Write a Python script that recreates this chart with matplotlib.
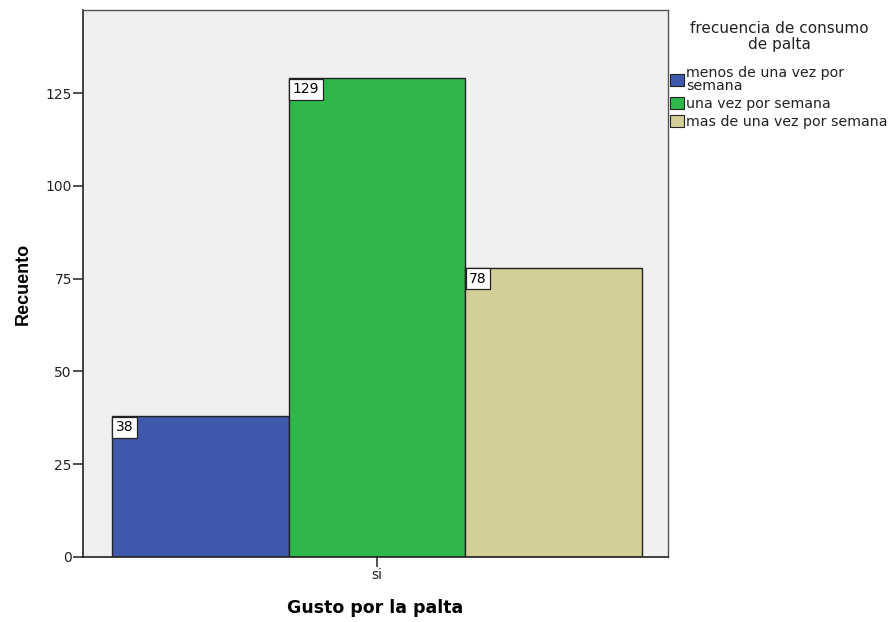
import matplotlib
matplotlib.use("Agg")
import matplotlib.pyplot as plt
from matplotlib.patches import Patch

plt.rcParams['font.family'] = ['DejaVu Sans']

categorias = ["menos de una vez por\nsemana", "una vez por semana", "mas de una vez por semana"]
valores = [38, 129, 78]
colores = ["#3E58AC", "#2FB84A", "#D4CE98"]
posiciones = [-1, 0, 1]
y_ticks = [0, 25, 50, 75, 100, 125]

fig = plt.figure(figsize=(8.9, 6.22), dpi=100)
ax = fig.add_axes([83/890, 65/622, 585/890, 547/622])
ax.set_facecolor("#F0F0F0")

ax.bar(posiciones, valores, width=1.0, color=colores, edgecolor="#222222", linewidth=1.0, zorder=2)

# etiquetas de valor en la esquina superior izquierda de cada barra
for x, v in zip(posiciones, valores):
    ax.annotate(str(v), xy=(x - 0.5, v), xytext=(2.8, -3.0), textcoords="offset points",
                ha="left", va="top", fontsize=10, zorder=3,
                bbox=dict(boxstyle="square,pad=0.25", fc="white", ec="#222222", lw=0.9))

ax.set_xlim(-1.664, 1.647)
ax.set_ylim(0, 147.4)
ax.set_yticks(y_ticks)
ax.set_yticklabels([str(t) for t in y_ticks], fontsize=10, color="#222222")
ax.set_xticks([0])
ax.set_xticklabels(["si"], fontsize=10, color="#222222")
ax.tick_params(axis="both", direction="out", length=7, width=1.2, color="#333333", pad=1)

for s in ["left", "bottom"]:
    ax.spines[s].set_color("#222222")
    ax.spines[s].set_linewidth(1.2)
for s in ["top", "right"]:
    ax.spines[s].set_color("#555555")
    ax.spines[s].set_linewidth(1.0)

ax.set_ylabel("Recuento", fontsize=13, fontweight="bold", labelpad=10,
              family=["Liberation Sans", "DejaVu Sans"])
ax.set_xlabel("Gusto por la palta", fontsize=12.5, fontweight="bold", labelpad=12)

# titulo de la leyenda aparte para controlar su posicion
fig.text(779/890, 1 - 36.5/622, "frecuencia de consumo\nde palta", ha="center", va="center",
         fontsize=11, linespacing=1.05, color="#222222")

handles = [Patch(facecolor=c, edgecolor="#222222", linewidth=0.8) for c in colores]
leg = fig.legend(handles, categorias, loc="upper left", bbox_to_anchor=(670/890, 1 - 66/622),
                 frameon=False, fontsize=10.2, handlelength=1.0, handleheight=0.95,
                 handletextpad=0.15, labelspacing=0.25, borderaxespad=0, borderpad=0)
for t in leg.get_texts():
    t.set_linespacing(0.95)
    t.set_color("#222222")

fig.savefig("out.png", dpi=100)
